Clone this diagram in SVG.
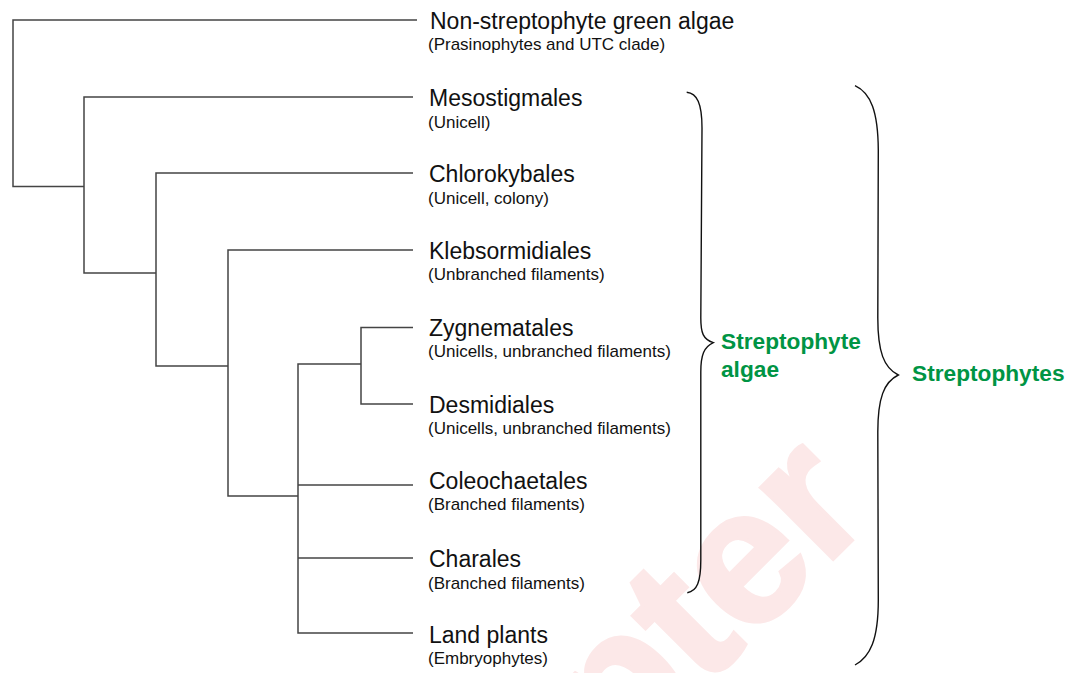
<svg xmlns="http://www.w3.org/2000/svg" width="1077" height="673" viewBox="0 0 1077 673">
<style>
.t{font-family:"Liberation Sans",Arial,sans-serif;font-size:23px;fill:#111}
.s{font-family:"Liberation Sans",Arial,sans-serif;font-size:17px;fill:#111}
.g{font-family:"Liberation Sans",Arial,sans-serif;font-size:22.7px;font-weight:bold;fill:#009444}
.br{fill:none;stroke:#111;stroke-width:1.4}
.tree{fill:none;stroke:#444;stroke-width:1.5}
</style>
<rect width="1077" height="673" fill="#fff"/>
<text x="620" y="772" transform="rotate(-45 620 772)" style="font-family:'Liberation Sans',Arial,sans-serif;font-size:192px;font-weight:bold;fill:#fce8e8;stroke:#fce8e8;stroke-width:4">pter</text>
<g id="connectors" class="tree">
<path d="M417,20 H13 V186.5 H84"/>
<path d="M413,97 H84 V273 H156"/>
<path d="M413,173 H156 V366 H228"/>
<path d="M413,250 H228 V496 H298"/>
<path d="M361,364 H298 V633 H413"/>
<path d="M298,485 H413"/>
<path d="M298,558 H413"/>
<path d="M413,327.5 H361 V404 H413"/>
</g>
<g id="node-nonstrepto"><text class="t" x="430" y="28.5">Non-streptophyte green algae</text><text class="s" x="428" y="50">(Prasinophytes and UTC clade)</text></g>
<g id="node-mesostigmales"><text class="t" x="429" y="106">Mesostigmales</text><text class="s" x="428" y="128">(Unicell)</text></g>
<g id="node-chlorokybales"><text class="t" x="429" y="182">Chlorokybales</text><text class="s" x="428" y="203.5">(Unicell, colony)</text></g>
<g id="node-klebsormidiales"><text class="t" x="429" y="258.5">Klebsormidiales</text><text class="s" x="428" y="280">(Unbranched filaments)</text></g>
<g id="node-zygnematales"><text class="t" x="429" y="336">Zygnematales</text><text class="s" x="428" y="357">(Unicells, unbranched filaments)</text></g>
<g id="node-desmidiales"><text class="t" x="429" y="413">Desmidiales</text><text class="s" x="428" y="434">(Unicells, unbranched filaments)</text></g>
<g id="node-coleochaetales"><text class="t" x="429" y="488.5">Coleochaetales</text><text class="s" x="428" y="510">(Branched filaments)</text></g>
<g id="node-charales"><text class="t" x="429" y="567">Charales</text><text class="s" x="428" y="588.5">(Branched filaments)</text></g>
<g id="node-landplants"><text class="t" x="429" y="642.5">Land plants</text><text class="s" x="428" y="664">(Embryophytes)</text></g>
<g id="brace-streptophyte-algae">
<path class="br" d="M686.7,92.3 C697,93.5 702,103 702,128 L700.8,318 C700.8,333 703,339 713.3,342.7 C704,347 700.8,355 700.8,372 L700.8,560 C700.8,582 697,591 687.3,592.7"/>
<text class="g" x="721" y="348.7">Streptophyte</text><text class="g" x="721" y="376.7">algae</text>
</g>
<g id="brace-streptophytes">
<path class="br" d="M855,85.7 C871,93 878,112 878.3,150 L877.8,318 C877.8,352 884,368 898.3,375 C884,382 877.8,398 877.8,432 L878.3,600 C878.3,640 870,657 855,665"/>
<text class="g" x="912" y="380.7">Streptophytes</text>
</g>
</svg>
